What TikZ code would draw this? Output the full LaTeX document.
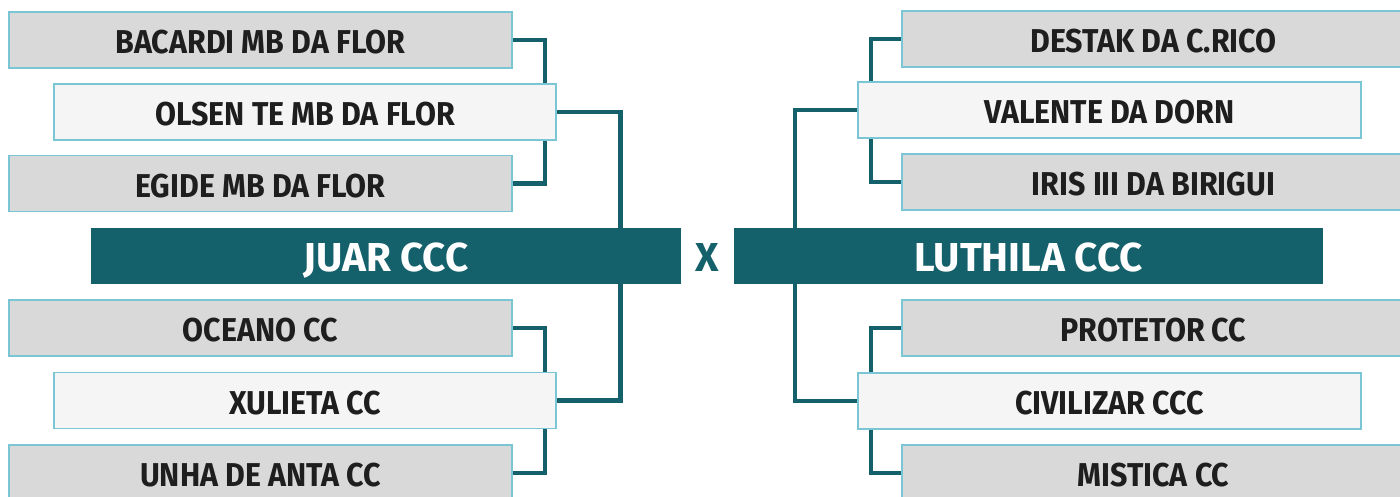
\documentclass[tikz,border=0pt]{standalone}
\usepackage{fontspec}
\setmainfont{Fira Sans}
\newfontfamily\teamfont[FakeStretch=0.92]{Fira Sans}
\usetikzlibrary{backgrounds}
\definecolor{tealdark}{HTML}{14606B}
\definecolor{boxline}{HTML}{7AC6D4}
\definecolor{boxgray}{HTML}{D9D9D9}
\definecolor{boxwhite}{HTML}{F5F5F5}
\definecolor{labeltext}{HTML}{1E1E1E}
\begin{document}
\begin{tikzpicture}[
  x=0.02cm,
  y=-0.02cm,
  entry/.style={draw=boxline, line width=1.1pt, minimum width=10.06cm,
    minimum height=1.12cm, inner sep=0pt, text height=15.4pt, text depth=0pt,
    font=\teamfont\bfseries\fontsize{18.8}{20}\selectfont, text=labeltext},
  seed/.style={entry, fill=boxwhite},
  rest/.style={entry, fill=boxgray},
  final/.style={fill=tealdark, minimum width=11.8cm, minimum height=1.12cm,
    inner sep=0pt, text height=17.1pt, text depth=0pt, text=white,
    font=\bfseries\fontsize{23}{25}\selectfont},
  link/.style={draw=tealdark, line width=2.6pt}
]
\useasboundingbox (0,0) rectangle (1400,497);
\clip (0,0) rectangle (1400,497);

% left bracket
\node[final] (juar) at (386,256) {JUAR CCC};
\node[rest] (bacardi) at (260.5,40) {BACARDI MB DA FLOR};
\node[seed] (olsen) at (305,112) {OLSEN TE MB DA FLOR};
\node[rest] (egide) at (260.5,183.5) {EGIDE MB DA FLOR};
\node[rest] (oceano) at (260.5,328) {OCEANO CC};
\node[seed] (xulieta) at (305,400.5) {XULIETA CC};
\node[rest] (unha) at (260.5,473) {UNHA DE ANTA CC};

% right bracket
\node[final] (luthila) at (1028.5,256) {LUTHILA CCC};
\node[rest] (destak) at (1153.5,39) {DESTAK DA C.RICO};
\node[seed] (valente) at (1109.5,110) {VALENTE DA DORN};
\node[rest] (iris) at (1153.5,182) {IRIS III DA BIRIGUI};
\node[rest] (protetor) at (1153.5,328) {PROTETOR CC};
\node[seed] (civilizar) at (1109.5,401) {CIVILIZAR CCC};
\node[rest] (mistica) at (1153.5,473) {MISTICA CC};

\node[text=tealdark, inner sep=0pt, text height=17.1pt, text depth=0pt,
  font=\fontsize{23}{25}\selectfont\bfseries] (versus) at (707,256) {X};

\begin{scope}[on background layer]
\draw[link] (bacardi.east) -- ++(32,0) |- (egide.east);
\draw[link] (olsen.east) -| ([xshift=-1.22cm]juar.north east);
\draw[link] (oceano.east) -- ++(32,0) |- (unha.east);
\draw[link] (xulieta.east) -| ([xshift=-1.22cm]juar.south east);
\draw[link] (destak.west) -- ++(-30,0) |- (iris.west);
\draw[link] (valente.west) -| ([xshift=1.24cm]luthila.north west);
\draw[link] (protetor.west) -- ++(-30,0) |- (mistica.west);
\draw[link] (civilizar.west) -| ([xshift=1.24cm]luthila.south west);
\end{scope}
\end{tikzpicture}
\end{document}
